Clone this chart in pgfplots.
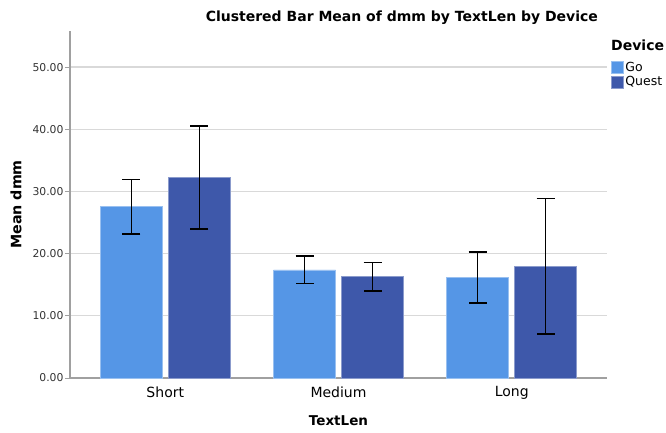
\documentclass[border=0pt]{standalone}
\usepackage{pgfplots}
\pgfplotsset{compat=1.18}
\usepackage{fontspec}
\setmainfont{DejaVu Sans}
\definecolor{goc}{RGB}{85,150,230}
\definecolor{questc}{RGB}{62,88,170}
\definecolor{gridc}{RGB}{217,217,217}
\definecolor{axisc}{RGB}{160,160,160}
\begin{document}
\begin{tikzpicture}[x=1pt,y=1pt]
\begin{axis}[
  at={(70pt,54pt)}, anchor=south west,
  scale only axis, width=537pt, height=347pt,
  xmin=-0.55, xmax=2.55, ymin=0, ymax=55.8,
  ybar, bar width=62pt,
  axis x line*=bottom, axis y line*=left,
  axis line style={axisc, line width=1.3pt},
  xtick={0,1,2}, xticklabels={Short,Medium,Long},
  major x tick style={draw=none},
  ytick={0,10,20,30,40,50},
  tick align=outside, major tick length=5pt,
  major y tick style={axisc, line width=1pt},
  ymajorgrids, grid style={gridc, line width=1.2pt},
  /pgf/number format/assume math mode=true,
  yticklabel={\pgfmathprintnumber[fixed, fixed zerofill, precision=2]{\tick}},
  yticklabel style={font=\fontsize{10.8}{12}\selectfont, text=black!80, xshift=2pt},
  xticklabel style={font=\fontsize{14}{16}\selectfont},
  ylabel={Mean dmm},
  ylabel style={at={(axis description cs:-0.1006,0.5)}, anchor=center, font=\bfseries\fontsize{14.3}{16}\selectfont},
  xlabel={TextLen},
  xlabel style={at={(axis description cs:0.5,-0.124)}, anchor=center, font=\bfseries\fontsize{13.5}{15}\selectfont},
  every axis title shift=0pt,
  title={Clustered Bar Mean of dmm by TextLen by Device},
  title style={at={(axis description cs:0.618,1.037)}, anchor=center, font=\bfseries\fontsize{14}{16}\selectfont},
  legend style={at={(axis description cs:1.0075,0.916)}, anchor=north west, draw=none, fill=none,
    inner sep=0pt, row sep=1pt, font=\fontsize{12.5}{14}\selectfont,
    nodes={inner sep=1.5pt}},
  legend cell align=left,
  legend image code/.code={\fill[#1] (0pt,-6pt) rectangle (12pt,6pt);},
  clip=false,
]
\addplot[fill=goc, draw=goc!60!white, line width=0.6pt, bar shift=-34pt,
  error bars/.cd, y dir=both, y explicit,
  error bar style={black, line width=1.5pt},
  error mark options={rotate=90, mark size=9pt, black, line width=1.5pt}]
  coordinates {(0,27.55) +- (0,4.4) (1,17.4) +- (0,2.2) (2,16.2) +- (0,4.1)};
\addlegendentry{Go}
\addplot[fill=questc, draw=questc!60!white, line width=0.6pt, bar shift=34pt,
  error bars/.cd, y dir=both, y explicit,
  error bar style={black, line width=1.5pt},
  error mark options={rotate=90, mark size=9pt, black, line width=1.5pt}]
  coordinates {(0,32.25) +- (0,8.3) (1,16.3) +- (0,2.3) (2,18.0) +- (0,10.9)};
\addlegendentry{Quest}
\node[anchor=west, font=\bfseries\fontsize{14}{16}\selectfont, inner sep=0pt] at (axis description cs:1.0075,0.96) {Device};
\end{axis}
\pgfresetboundingbox
\path (0,0) rectangle (666,432);
\end{tikzpicture}
\end{document}
